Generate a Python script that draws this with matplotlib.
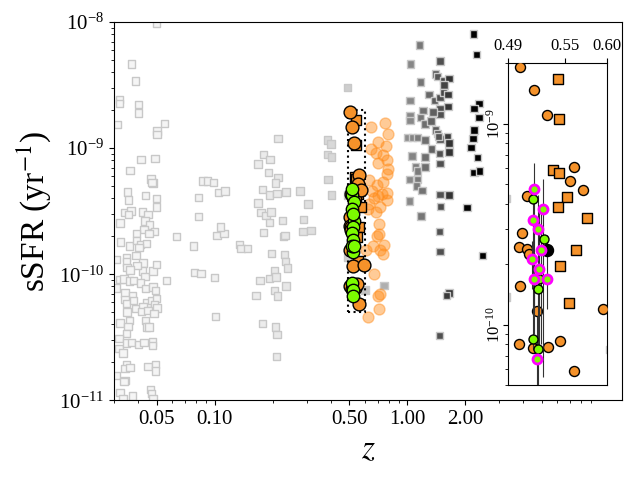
import matplotlib
matplotlib.use("Agg")
import matplotlib.pyplot as plt
from matplotlib.patches import Rectangle
from matplotlib.ticker import FormatStrFormatter, NullFormatter, NullLocator
import numpy as np

plt.rcParams['font.family'] = 'serif'
plt.rcParams['font.serif'] = ['Liberation Serif', 'DejaVu Serif']
plt.rcParams['mathtext.fontset'] = 'stix'

# --- comparison samples (grey squares, shaded by redshift) ---
# local sample, z < 0.06
z_local = [0.0479, 0.0352, 0.0356, 0.0437, 0.0498, 0.0498, 0.0343, 0.0368, 0.0358, 0.0422,
           0.0451, 0.0322, 0.0435, 0.0460, 0.0430, 0.0486, 0.0457, 0.0393, 0.0324, 0.0360,
           0.0393, 0.0411, 0.0442, 0.0405, 0.0309, 0.0348, 0.0348, 0.0390, 0.0351, 0.0425,
           0.0422, 0.0435, 0.0396, 0.0479, 0.0498, 0.0363, 0.0322, 0.0338, 0.0360, 0.0380,
           0.0411, 0.0437, 0.0479, 0.0494, 0.0309, 0.0343, 0.0374, 0.0342, 0.0348, 0.0380,
           0.0390, 0.0351, 0.0446, 0.0425, 0.0469, 0.0498, 0.0489, 0.0502, 0.0417, 0.0450,
           0.0485, 0.0322, 0.0360, 0.0355, 0.0348, 0.0439, 0.0442, 0.0457, 0.0319, 0.0319,
           0.0348, 0.0370, 0.0401, 0.0429, 0.0475, 0.0475, 0.0335, 0.0348, 0.0343, 0.0363,
           0.0450, 0.0492, 0.0492, 0.0309, 0.0342, 0.0338, 0.0322, 0.0374, 0.0464, 0.0469,
           0.0479, 0.0335,
           0.050, 0.037, 0.0388, 0.032, 0.032, 0.0402, 0.0402, 0.0312, 0.0548, 0.0502,
           0.0502, 0.0415, 0.049, 0.0364, 0.0468, 0.0472, 0.0632, 0.0561]
ssfr_local = [5.30e-10, 4.50e-10, 3.87e-10, 4.21e-10, 3.99e-10, 3.42e-10, 3.09e-10, 3.18e-10, 2.98e-10, 3.12e-10,
              2.99e-10, 2.55e-10, 2.65e-10, 2.45e-10, 2.26e-10, 2.17e-10, 2.10e-10, 2.10e-10, 1.80e-10, 1.67e-10,
              1.86e-10, 1.72e-10, 1.75e-10, 1.62e-10, 1.31e-10, 1.35e-10, 1.25e-10, 1.40e-10, 1.13e-10, 1.23e-10,
              1.06e-10, 9.64e-11, 1.18e-10, 1.06e-10, 1.19e-10, 1.08e-10, 9.08e-11, 9.18e-11, 8.85e-11, 8.96e-11,
              8.53e-11, 7.70e-11, 7.93e-11, 7.46e-11, 7.78e-11, 7.10e-11, 6.81e-11, 6.33e-11, 5.85e-11, 6.22e-11,
              5.34e-11, 5.02e-11, 5.92e-11, 5.57e-11, 6.22e-11, 6.41e-11, 5.78e-11, 5.40e-11, 5.08e-11, 5.18e-11,
              4.88e-11, 4.11e-11, 4.31e-11, 3.87e-11, 3.38e-11, 4.31e-11, 3.82e-11, 3.82e-11, 3.09e-11, 2.57e-11,
              2.85e-11, 2.87e-11, 2.78e-11, 2.87e-11, 2.90e-11, 2.73e-11, 2.37e-11, 1.92e-11, 1.78e-11, 1.82e-11,
              1.86e-11, 1.92e-11, 1.71e-11, 1.58e-11, 1.44e-11, 1.41e-11, 1.16e-11, 1.08e-11, 1.22e-11, 1.13e-11,
              1.03e-11, 1.03e-11,
              9.8e-9, 4.64e-9, 3.4e-9, 2.44e-9, 2.27e-9, 2.23e-9, 1.9e-9, 1.54e-9, 1.57e-9, 1.37e-9,
              1.29e-9, 8.1e-10, 8.3e-10, 6.65e-10, 5.7e-10, 5.35e-10, 2.0e-10, 8.95e-11]

# intermediate redshift, 0.07 < z < 0.8
z_mid = [0.0822, 0.087, 0.092, 0.0988, 0.1044, 0.113, 0.0826, 0.0775, 0.1028, 0.112,
         0.107, 0.134, 0.137, 0.148, 0.0784, 0.085, 0.1, 0.1007,
         0.2135, 0.1795, 0.194, 0.168, 0.190, 0.2135, 0.207, 0.1765, 0.192, 0.2104,
         0.234, 0.2777, 0.168, 0.3055, 0.1738, 0.1845, 0.196, 0.193, 0.224, 0.289,
         0.1795, 0.2868, 0.3155, 0.228, 0.2316, 0.1965, 0.2295, 0.2333, 0.2389, 0.2037,
         0.193, 0.208, 0.172, 0.234, 0.2037, 0.164, 0.212, 0.1765, 0.207, 0.2103,
         0.2085,
         0.489, 0.385, 0.401, 0.385, 0.404, 0.388, 0.404, 0.488, 0.488, 0.603, 0.755]
ssfr_mid = [4.06e-10, 5.5e-10, 5.5e-10, 5.35e-10, 4.45e-10, 4.56e-10, 2.88e-10, 1.67e-10, 2.04e-10, 2.1e-10,
            2.37e-10, 1.72e-10, 1.6e-10, 1.6e-10, 1.03e-10, 1.01e-10, 9.4e-11, 4.64e-11,
            1.19e-9, 8.9e-10, 8.1e-10, 7.5e-10, 6.4e-10, 5.85e-10, 5.3e-10, 4.7e-10, 4.24e-10, 4.37e-10,
            4.5e-10, 4.56e-10, 3.68e-10, 3.6e-10, 3.07e-10, 2.94e-10, 3.12e-10, 2.57e-10, 2.68e-10, 2.72e-10,
            2.14e-10, 2.18e-10, 2.22e-10, 2.0e-10, 2.02e-10, 1.46e-10, 1.44e-10, 1.26e-10, 1.12e-10, 1.06e-10,
            9.3e-11, 9.5e-11, 8.95e-11, 8.07e-11, 7.46e-11, 6.78e-11, 6.73e-11, 4.06e-11, 3.82e-11, 3.34e-11,
            2.23e-11,
            3.03e-9, 1.16e-9, 1.08e-9, 8.9e-10, 8.5e-10, 5.65e-10, 4.26e-10, 4.24e-10, 1.37e-10, 7.5e-11, 8.1e-11]

# high redshift, z > 1
z_high = [1.158, 1.040, 1.475, 1.172, 1.402, 1.430, 1.537, 1.643, 1.548, 1.294,
          1.385, 1.475, 1.537, 1.623, 1.031, 1.623, 1.475, 1.475, 1.357, 1.205,
          1.031, 1.031, 1.172, 1.234, 1.325, 1.397, 1.430, 1.475, 1.612, 1.643,
          1.447, 1.000, 1.061, 1.127, 1.234, 1.331, 1.465, 1.643, 1.056, 1.234,
          1.475, 1.104, 1.127, 1.234, 1.028, 1.127, 1.117, 1.190, 1.475, 1.643,
          1.028, 1.488, 1.176, 1.465, 1.475, 1.643, 1.598, 1.465,
          2.198, 2.286, 2.349, 2.214, 2.349, 2.214, 2.187, 2.136, 2.313, 2.214,
          2.360, 2.036, 2.455]
ssfr_high = [6.57e-9, 4.64e-9, 4.90e-9, 3.34e-9, 3.87e-9, 3.68e-9, 3.46e-9, 3.57e-9, 3.16e-9, 2.68e-9,
             2.40e-9, 2.53e-9, 2.75e-9, 2.68e-9, 2.40e-9, 2.15e-9, 2.07e-9, 1.85e-9, 1.94e-9, 1.98e-9,
             1.82e-9, 1.65e-9, 1.75e-9, 1.55e-9, 1.64e-9, 1.39e-9, 1.31e-9, 1.18e-9, 1.23e-9, 1.10e-9,
             1.23e-9, 1.22e-9, 1.22e-9, 1.22e-9, 1.16e-9, 9.82e-10, 9.08e-10, 9.30e-10, 8.64e-10, 8.53e-10,
             7.56e-10, 7.10e-10, 6.60e-10, 7.10e-10, 5.64e-10, 5.64e-10, 5.02e-10, 4.64e-10, 4.31e-10, 4.24e-10,
             3.80e-10, 3.46e-10, 2.89e-10, 2.19e-10, 1.52e-10, 7.10e-11, 6.78e-11, 3.28e-11,
             8.03e-9, 5.54e-9, 2.26e-9, 2.07e-9, 1.75e-9, 1.39e-9, 1.19e-9, 1.01e-9, 8.48e-10, 6.41e-10,
             6.57e-10, 3.38e-10, 1.41e-10]

# --- cluster field sample (light orange) ---
z_field = [0.766, 0.793, 0.645, 0.704, 0.772, 0.751, 0.645, 0.685, 0.788, 0.704,
           0.793, 0.781, 0.751, 0.632, 0.699, 0.653, 0.742, 0.781, 0.704, 0.667,
           0.781, 0.632, 0.721, 0.691, 0.621, 0.710, 0.716, 0.699, 0.757, 0.659,
           0.608, 0.721, 0.745, 0.671, 0.721, 0.704, 0.713, 0.621]
ssfr_field = [1.57e-9, 1.29e-9, 1.48e-9, 1.12e-9, 1.04e-9, 8.8e-10, 9.9e-10, 9.2e-10, 8.0e-10, 7.6e-10,
              6.8e-10, 6.2e-10, 5.4e-10, 5.6e-10, 5.1e-10, 4.6e-10, 4.3e-10, 4.4e-10, 4.2e-10, 4.0e-10,
              3.9e-10, 3.6e-10, 3.4e-10, 3.1e-10, 3.3e-10, 2.5e-10, 2.1e-10, 2.0e-10, 1.70e-10, 1.67e-10,
              1.57e-10, 1.55e-10, 1.44e-10, 1.01e-10, 7.0e-11, 6.7e-11, 5.3e-11, 4.6e-11]

# --- our galaxies ---
z_circ = [0.5019, 0.5165, 0.530, 0.561, 0.556, 0.571, 0.5095, 0.5036, 0.5011, 0.5095,
          0.5116, 0.5025, 0.520, 0.595, 0.5011, 0.5157, 0.5317, 0.5444, 0.561]
ssfr_circ = [1.92e-9, 1.47e-9, 1.10e-9, 6.07e-10, 5.17e-10, 4.69e-10, 4.35e-10, 2.87e-10, 2.43e-10, 2.37e-10,
             2.24e-10, 1.55e-10, 1.165e-10, 1.19e-10, 8.04e-11, 7.64e-11, 7.73e-11, 8.32e-11, 5.84e-11]

z_sq = [0.542, 0.5433, 0.5373, 0.5435, 0.5528, 0.542, 0.576, 0.5628, 0.5444, 0.5547]
ssfr_sq = [1.68e-9, 1.06e-9, 5.89e-10, 5.69e-10, 4.33e-10, 3.83e-10, 3.39e-10, 2.35e-10, 1.96e-10, 1.28e-10]

z_green = [0.5157, 0.5271, 0.5203, 0.5157, 0.5203, 0.522]
ssfr_green = [4.22e-10, 2.66e-10, 1.50e-10, 8.48e-11, 7.56e-11, 1.68e-10]

z_mag = [0.5165, 0.526, 0.5155, 0.5203, 0.5239, 0.5147, 0.5214, 0.5161, 0.5307, 0.5193]
ssfr_mag = [4.73e-10, 3.76e-10, 3.32e-10, 2.99e-10, 2.35e-10, 2.11e-10, 1.88e-10, 1.68e-10, 1.68e-10, 6.76e-11]
ssfr_mag_lo = [9.0e-11, 5.5e-11, 7.5e-11, 4.0e-11, 8.0e-11, 1.5e-10, 6.5e-11, 1.2e-10, 1.2e-10, 4.0e-11]
ssfr_mag_hi = [6.4e-10, 5.3e-10, 4.8e-10, 4.4e-10, 3.6e-10, 2.6e-10, 3.9e-10, 2.2e-10, 2.8e-10, 1.1e-10]

z_mean = [0.530]
ssfr_mean = [2.35e-10]

inset_xlim = (0.49, 0.60)
inset_ylim = (5e-11, 2e-9)

orange = '#f5922a'
green = '#7cfc00'

z_gray = np.array(z_local + z_mid + z_high)
ssfr_gray = np.array(ssfr_local + ssfr_mid + ssfr_high)


def draw_points(a, big):
    """draw the common samples on an axis; big=True for the main panel"""
    a.scatter(z_gray, ssfr_gray, c=z_gray, cmap='Greys', vmin=-0.15, vmax=2.0,
              marker='s', s=28, edgecolors='#c8c8c8', linewidths=1, zorder=1)
    a.scatter(z_field, ssfr_field, s=62, color='#ff8c1a', alpha=0.45, linewidths=1, zorder=2)
    a.scatter(z_sq, ssfr_sq, marker='s', s=45 if big else 44, c=orange,
              edgecolors='k', linewidths=1, zorder=3)
    a.scatter(z_circ, ssfr_circ, s=85 if big else 52, c=orange,
              edgecolors='k', linewidths=1, zorder=3.5)


fig = plt.figure(figsize=(6.4, 4.8), dpi=100)
ax = fig.add_axes([0.178, 0.166, 0.794, 0.788])

draw_points(ax, True)
ax.scatter(z_green + z_mag, ssfr_green + ssfr_mag, s=80, c=green,
           edgecolors='k', linewidths=1, zorder=5)
ax.add_patch(Rectangle((inset_xlim[0], inset_ylim[0]),
                       inset_xlim[1] - inset_xlim[0], inset_ylim[1] - inset_ylim[0],
                       fill=False, ls=':', lw=1.5, ec='k', zorder=2.5))

ax.set_xscale('log')
ax.set_yscale('log')
ax.set_xlim(0.03, 13)
ax.set_ylim(1e-11, 1e-8)
ax.set_xticks([0.05, 0.10, 0.50, 1.00, 2.00])
ax.xaxis.set_major_formatter(FormatStrFormatter('%.2f'))
ax.xaxis.set_minor_formatter(NullFormatter())
ax.yaxis.set_minor_formatter(NullFormatter())
ax.tick_params(labelsize=15)
ax.set_xlabel('$z$', fontsize=24)
ax.set_ylabel(r'sSFR (yr$^{-1}$)', fontsize=24)

# zoom-in panel
axin = fig.add_axes([0.794, 0.198, 0.155, 0.670])
draw_points(axin, False)
err = np.array([np.array(ssfr_mag) - np.array(ssfr_mag_lo),
                np.array(ssfr_mag_hi) - np.array(ssfr_mag)])
axin.errorbar(z_mag, ssfr_mag, yerr=err, fmt='none', ecolor='#333333',
              elinewidth=0.8, capsize=0, zorder=3.8)
axin.scatter(z_mean, ssfr_mean, s=75, c='k', zorder=4)
axin.scatter(z_green, ssfr_green, s=42, c=green, edgecolors='k', linewidths=1, zorder=5)
axin.scatter(z_mag, ssfr_mag, s=42, c=green, edgecolors='#ff00ff', linewidths=2, zorder=6)

axin.set_xscale('log')
axin.set_yscale('log')
axin.set_xlim(*inset_xlim)
axin.set_ylim(*inset_ylim)
axin.xaxis.tick_top()
axin.set_xticks([0.49, 0.55, 0.60])
axin.xaxis.set_major_formatter(FormatStrFormatter('%.2f'))
axin.xaxis.set_minor_locator(NullLocator())
axin.yaxis.set_minor_formatter(NullFormatter())
axin.tick_params(labelsize=12)
axin.tick_params(axis='y', pad=0)
for lab in axin.get_yticklabels():
    lab.set_rotation(90)
    lab.set_rotation_mode('default')
    lab.set_ha('right')
    lab.set_va('center')

fig.savefig('out.png', dpi=100)
